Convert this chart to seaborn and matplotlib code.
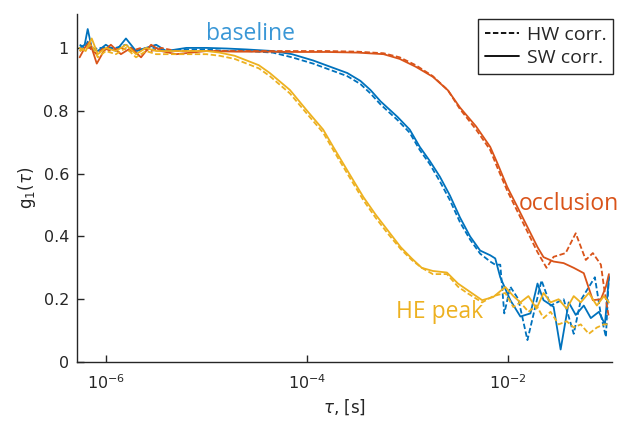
import numpy as np
import pandas as pd
import matplotlib
matplotlib.use("Agg")
import matplotlib.pyplot as plt
import seaborn as sns
from matplotlib.lines import Line2D
from matplotlib.ticker import NullLocator

# log10(tau) sample points and g1 values
he_sw_logt = [-6.26, -6.2, -6.14, -6.08, -6.0, -5.9, -5.8, -5.7, -5.6, -5.5,
              -5.4, -5.2, -5.0, -4.87, -4.72, -4.6, -4.48, -4.37, -4.17, -4.0,
              -3.84, -3.74, -3.6, -3.44, -3.32, -3.2, -3.07, -2.96, -2.86, -2.75,
              -2.61, -2.5, -2.41, -2.26, -2.15, -2.03, -1.95, -1.88, -1.8, -1.72,
              -1.65, -1.58, -1.5, -1.42, -1.35, -1.28, -1.2, -1.12, -1.05, -1.0]
he_sw_g1 = [1.0, 0.99, 1.03, 0.98, 1.0, 0.99, 1.01, 0.98, 1.0, 0.99,
            0.99, 0.99, 0.99, 0.985, 0.975, 0.96, 0.945, 0.92, 0.866, 0.80,
            0.74, 0.685, 0.61, 0.525, 0.47, 0.42, 0.366, 0.33, 0.30, 0.29,
            0.285, 0.25, 0.23, 0.197, 0.207, 0.239, 0.21, 0.19, 0.21, 0.17,
            0.22, 0.19, 0.20, 0.17, 0.21, 0.19, 0.22, 0.18, 0.21, 0.19]

he_hw_logt = he_sw_logt
he_hw_g1 = [0.99, 1.0, 1.01, 0.97, 0.99, 0.98, 1.0, 0.97, 0.99, 0.98,
            0.98, 0.98, 0.98, 0.975, 0.965, 0.95, 0.935, 0.91, 0.855, 0.79,
            0.73, 0.675, 0.60, 0.515, 0.46, 0.41, 0.36, 0.325, 0.30, 0.28,
            0.28, 0.24, 0.22, 0.19, 0.21, 0.22, 0.175, 0.19, 0.16, 0.18,
            0.14, 0.16, 0.12, 0.13, 0.11, 0.12, 0.09, 0.11, 0.12, 0.12]

base_sw_logt = [-6.26, -6.21, -6.18, -6.14, -6.08, -6.0, -5.9, -5.8, -5.7, -5.6,
                -5.5, -5.4, -5.2, -5.0, -4.8, -4.6, -4.34, -4.15, -3.94, -3.77,
                -3.6, -3.47, -3.37, -3.27, -3.1, -2.98, -2.88, -2.78, -2.68, -2.58,
                -2.48, -2.38, -2.28, -2.18, -2.13, -2.08, -1.98, -1.88, -1.78, -1.71,
                -1.65, -1.55, -1.48, -1.4, -1.33, -1.25, -1.18, -1.1, -1.04, -1.0]
base_sw_g1 = [1.0, 1.01, 1.06, 1.0, 0.99, 1.01, 0.99, 1.03, 0.99, 1.0,
              1.01, 0.99, 1.0, 1.0, 0.998, 0.995, 0.99, 0.98, 0.96, 0.94,
              0.92, 0.895, 0.866, 0.83, 0.78, 0.74, 0.685, 0.64, 0.59, 0.53,
              0.46, 0.40, 0.355, 0.34, 0.33, 0.27, 0.197, 0.145, 0.155, 0.25,
              0.197, 0.176, 0.04, 0.19, 0.15, 0.18, 0.14, 0.16, 0.12, 0.27]

base_hw_logt = [-6.26, -6.21, -6.18, -6.14, -6.08, -6.0, -5.9, -5.8, -5.7, -5.6,
                -5.5, -5.4, -5.2, -5.0, -4.8, -4.6, -4.34, -4.15, -3.94, -3.77,
                -3.6, -3.47, -3.37, -3.27, -3.1, -2.98, -2.88, -2.78, -2.68, -2.58,
                -2.48, -2.38, -2.28, -2.18, -2.13, -2.08, -2.04, -1.98, -1.9, -1.81,
                -1.67, -1.58, -1.45, -1.35, -1.28, -1.14, -1.08, -1.03, -1.0]
base_hw_g1 = [1.01, 1.0, 1.02, 0.99, 1.0, 1.0, 1.0, 1.01, 0.99, 1.0,
              1.0, 0.99, 0.995, 0.995, 0.99, 0.99, 0.985, 0.97, 0.95, 0.93,
              0.91, 0.885, 0.855, 0.82, 0.77, 0.73, 0.675, 0.63, 0.575, 0.515,
              0.445, 0.39, 0.345, 0.32, 0.31, 0.31, 0.155, 0.24, 0.2, 0.07,
              0.26, 0.18, 0.20, 0.09, 0.197, 0.27, 0.15, 0.08, 0.28]

occ_sw_logt = [-6.26, -6.21, -6.16, -6.09, -6.02, -5.95, -5.85, -5.75, -5.65, -5.55,
               -5.45, -5.3, -5.0, -4.7, -4.4, -4.1, -3.8, -3.5, -3.24, -3.08,
               -2.92, -2.75, -2.6, -2.48, -2.32, -2.18, -2.11, -2.01, -1.91, -1.81,
               -1.71, -1.65, -1.55, -1.45, -1.35, -1.25, -1.16, -1.08, -1.03, -1.0]
occ_sw_g1 = [0.97, 1.0, 1.02, 0.95, 0.99, 1.01, 0.98, 1.0, 0.97, 1.01,
             0.99, 0.98, 0.99, 0.988, 0.988, 0.987, 0.987, 0.985, 0.98, 0.965,
             0.94, 0.908, 0.865, 0.81, 0.75, 0.685, 0.634, 0.557, 0.494, 0.43,
             0.366, 0.334, 0.32, 0.315, 0.30, 0.283, 0.197, 0.20, 0.24, 0.28]

occ_hw_logt = [-6.26, -6.21, -6.16, -6.09, -6.02, -5.95, -5.85, -5.75, -5.65, -5.55,
               -5.45, -5.3, -5.0, -4.7, -4.4, -4.1, -3.8, -3.5, -3.24, -3.08,
               -2.92, -2.75, -2.6, -2.48, -2.32, -2.18, -2.11, -2.01, -1.91, -1.81,
               -1.71, -1.62, -1.55, -1.43, -1.33, -1.23, -1.16, -1.08, -1.05, -1.0]
occ_hw_g1 = [0.99, 1.0, 1.0, 0.98, 1.0, 0.99, 1.0, 0.99, 1.0, 0.99,
             1.0, 0.99, 0.99, 0.99, 0.99, 0.99, 0.99, 0.988, 0.983, 0.97,
             0.945, 0.91, 0.865, 0.805, 0.74, 0.675, 0.62, 0.545, 0.48, 0.415,
             0.35, 0.30, 0.335, 0.347, 0.41, 0.325, 0.347, 0.31, 0.24, 0.14]

BLUE = "#0072BD"
ORANGE = "#D95319"
YELLOW = "#EDB120"
DASH = (0, (3, 1.4))

sns.set_theme(style="white")
plt.rcParams["font.family"] = ["DejaVu Sans"]
plt.rcParams["mathtext.fontset"] = "dejavusans"

series = [
    (base_sw_logt, base_sw_g1, BLUE, "-"),
    (base_hw_logt, base_hw_g1, BLUE, DASH),
    (occ_sw_logt, occ_sw_g1, ORANGE, "-"),
    (occ_hw_logt, occ_hw_g1, ORANGE, DASH),
    (he_sw_logt, he_sw_g1, YELLOW, "-"),
    (he_hw_logt, he_hw_g1, YELLOW, DASH),
]

fig = plt.figure(figsize=(6.28, 4.23), dpi=100)
ax = fig.add_axes([0.123, 0.144, 0.852, 0.823])

for logt, g1, col, ls in series:
    df = pd.DataFrame({"tau": 10.0 ** np.array(logt), "g1": g1})
    sns.lineplot(data=df, x="tau", y="g1", ax=ax, color=col, linewidth=1.3,
                 estimator=None, sort=False, linestyle=ls)

ax.set_xscale("log")
ax.set_xlim(5.2e-7, 0.108)
ax.set_ylim(0, 1.108)
ax.set_xticks([1e-6, 1e-4, 1e-2])
ax.xaxis.set_minor_locator(NullLocator())
ax.set_yticks([0, 0.2, 0.4, 0.6, 0.8, 1])
ax.set_yticklabels(["0", "0.2", "0.4", "0.6", "0.8", "1"])
ax.tick_params(direction="in", length=5, width=1, labelsize=11.5, colors="#262626",
               bottom=True, left=True)
ax.tick_params(axis="x", pad=8)
ax.tick_params(axis="y", pad=6)
for s in ["top", "right"]:
    ax.spines[s].set_visible(False)
for s in ["left", "bottom"]:
    ax.spines[s].set_color("#262626")
    ax.spines[s].set_linewidth(1)

ax.set_xlabel(r"$\tau$, [s]", fontsize=12, color="#262626")
ax.set_ylabel(r"g$_1$($\tau$)", fontsize=12, color="#262626")

ax.text(1.0e-5, 1.025, "baseline", color="#3A97D6", fontsize=16.5, family="Open Sans",
        va="baseline")
ax.text(1.26e-2, 0.484, "occlusion", color=ORANGE, fontsize=16.5, family="Open Sans",
        va="baseline")
ax.text(7.6e-4, 0.14, "HE peak", color=YELLOW, fontsize=16.5, family="Open Sans",
        va="baseline")

handles = [Line2D([], [], color="black", linestyle=DASH, linewidth=1.3),
           Line2D([], [], color="black", linestyle="-", linewidth=1.3)]
leg = ax.legend(handles, ["HW corr.", "SW corr."], loc="upper right",
                frameon=True, fancybox=False, edgecolor="#262626", framealpha=1,
                handlelength=1.75, borderpad=0.35, labelspacing=0.25, handletextpad=0.4,
                borderaxespad=0, bbox_to_anchor=(1.002, 0.985),
                prop={"family": "Open Sans", "size": 14})
leg.get_frame().set_linewidth(1)

fig.savefig("out.png", dpi=100)
